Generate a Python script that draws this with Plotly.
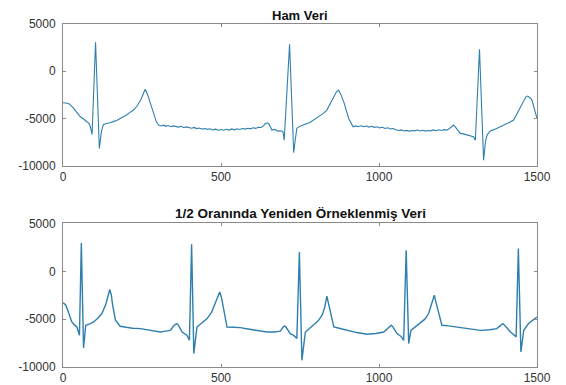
import plotly.graph_objects as go
from plotly.subplots import make_subplots

# Raw data (top)
raw_x = [0, 10, 20, 28, 34, 45, 55, 65, 75, 82, 86, 92, 103, 115, 122, 128, 140, 150, 160, 170, 181, 192, 202, 212, 223, 235, 247, 255, 260, 268, 278, 289, 296, 303,
         311, 318, 326, 333, 341, 349, 357, 366, 374, 381, 390, 398, 407, 415, 423, 432, 440, 449, 457, 466, 474, 483, 491, 500, 508, 517, 525, 534, 542, 551, 559, 568, 576, 585, 593, 602, 610, 618, 627, 635, 640, 646, 652, 661, 670, 680, 690, 696, 700,
         717, 730, 736, 740, 750, 760, 770, 780, 793, 803, 813, 824, 835, 845, 855, 865, 872, 880, 890, 904, 918,
         926, 934, 943, 951, 960, 968, 977, 985, 994, 1002, 1011, 1019, 1028, 1036, 1045, 1053, 1062, 1070, 1079, 1087, 1096, 1104, 1113, 1121, 1130, 1138, 1147, 1155, 1164, 1172, 1181, 1189, 1198, 1206, 1215, 1223, 1230, 1236, 1242, 1250, 1257, 1267, 1277, 1287, 1299, 1305,
         1318, 1331, 1337, 1342, 1352, 1362, 1373, 1383, 1393, 1403, 1414, 1426, 1436, 1447, 1458, 1465, 1470, 1478, 1484, 1492, 1500]
raw_y = [-3330, -3350, -3450, -3700, -3930, -4400, -4810, -5050, -5350, -5500, -5790, -6680, 3060, -8160, -6300, -5620, -5500, -5450, -5300, -5200, -4990, -4800, -4600, -4350, -4100, -3650, -2950, -2300, -1910, -2500, -3600, -4810, -5400, -5690,
         -5780, -5700, -5820, -5740, -5860, -5780, -5830, -5900, -5820, -5950, -5880, -5960, -6020, -5940, -6060, -6000, -6120, -6050, -6140, -6080, -6200, -6120, -6230, -6160, -6240, -6140, -6220, -6100, -6190, -6080, -6150, -6050, -6120, -6020, -6090, -5980, -6040, -5920, -5940, -5750, -5550, -5450, -5600, -6220, -6150, -6330, -6300, -6400, -7280,
         2850, -8620, -7000, -6040, -5800, -5650, -5550, -5450, -5160, -5000, -4750, -4450, -4100, -3500, -2800, -2200, -1990, -2500, -3400, -4990, -5870,
         -5780, -5860, -5760, -5870, -5790, -5900, -5820, -5930, -5870, -5990, -5920, -6050, -5980, -6100, -6060, -6180, -6260, -6200, -6320, -6250, -6330, -6260, -6300, -6220, -6310, -6240, -6330, -6270, -6300, -6200, -6280, -6180, -6260, -6170, -6220, -6050, -5850, -5690, -5900, -6300, -6570, -6620, -6720, -6800, -6930, -7280,
         2320, -9400, -7400, -6750, -6300, -6200, -6040, -5900, -5750, -5600, -5400, -5160, -4500, -3750, -3050, -2700, -2620, -2800, -3050, -4000, -4990]

# Resampled data (bottom)
res_x = [0, 8, 13, 20, 28, 36, 44, 52, 58, 65, 72, 85, 97, 110, 123, 135, 142, 148, 153, 157, 166, 181, 200, 220, 245, 270, 290, 308, 325, 339, 345, 350, 359, 365, 368, 377, 392, 400,
         407, 414, 424, 440, 456, 470, 484, 491, 496, 502, 508, 519, 540, 561, 590, 620, 646, 668, 688, 695, 701, 706, 710, 719, 730, 740,
         748, 756, 767, 780, 793, 807, 820, 828, 835, 840, 846, 857, 880, 899, 930, 962, 990, 1015, 1028, 1034, 1039, 1044, 1048, 1057, 1070, 1078,
         1086, 1094, 1101, 1115, 1131, 1145, 1157, 1167, 1172, 1175, 1180, 1187, 1199, 1220, 1247, 1280, 1321, 1350, 1373, 1385, 1392, 1398, 1404, 1416, 1426, 1434,
         1441, 1449, 1458, 1473, 1487, 1500]
res_y = [-3300, -3500, -3890, -4500, -5290, -5600, -5820, -6680, 2970, -8010, -5640, -5500, -5290, -4900, -4410, -3500, -2600, -1900, -2500, -3500, -5110, -5740, -5850, -5950, -5990, -6150, -6250, -6340, -6250, -6170, -5950, -5700, -5460, -5600, -5800, -6340, -6680, -7210,
         2830, -8600, -5820, -5400, -4940, -4300, -3200, -2600, -2150, -2800, -3800, -5820, -5850, -5880, -6050, -6200, -6340, -6340, -6250, -5900, -5700, -5850, -6100, -6510, -6700, -7030,
         2030, -9300, -6340, -5950, -5640, -5200, -4590, -3800, -2600, -3300, -4200, -5820, -6000, -6160, -6400, -6580, -6500, -6340, -6000, -5750, -5640, -5800, -6050, -6510, -6800, -7210,
         2210, -7550, -6170, -5800, -5460, -5000, -4410, -3400, -2800, -2500, -3200, -4200, -5640, -5700, -5820, -6000, -6170, -6100, -5990, -5650, -5460, -5650, -5900, -6340, -6600, -6860,
         2380, -8430, -6170, -5460, -5100, -4770]

titles = ["Ham Veri", "1/2 Oranında Yeniden Örneklenmiş Veri"]
x_ticks = [0, 500, 1000, 1500]
x_tick_text = ["0", "500", "1000", "1500"]
y_ticks = [-10000, -5000, 0, 5000]
y_tick_text = ["-10000", "-5000", "0", "5000"]

fig = make_subplots(rows=2, cols=1, vertical_spacing=0.168)
fig.add_trace(go.Scatter(x=raw_x, y=raw_y, mode="lines",
                         line=dict(color="#2f7fae", width=1.1), showlegend=False), row=1, col=1)
fig.add_trace(go.Scatter(x=res_x, y=res_y, mode="lines",
                         line=dict(color="#2f7fae", width=1.4), showlegend=False), row=2, col=1)

axis_common = dict(showline=True, mirror="ticks", linecolor="#8a8a8a", linewidth=1,
                   ticks="inside", ticklen=3, tickcolor="#8a8a8a", showgrid=False, zeroline=False,
                   automargin=False,
                   tickfont=dict(family="Liberation Sans, Arial", size=12, color="#333333"))
for r in (1, 2):
    fig.update_xaxes(range=[0, 1500], tickvals=x_ticks, ticktext=x_tick_text, ticklabelstandoff=0,
                     row=r, col=1, **axis_common)
    fig.update_yaxes(range=[-10000, 5000], tickvals=y_ticks, ticktext=y_tick_text, ticklabelstandoff=4,
                     row=r, col=1, **axis_common)

# the page places the figure 8px in from the top-left corner of the window
fig.update_layout(
    width=558, height=377,
    margin=dict(l=55, r=29, t=16, b=18),
    plot_bgcolor="white", paper_bgcolor="white",
    yaxis=dict(domain=[0.5865, 1.0]),
    yaxis2=dict(domain=[0.0, 0.4184]),
    annotations=[
        dict(text="<b>" + titles[0] + "</b>", x=0.5, xref="paper", y=1.0, yref="paper",
             yanchor="bottom", yshift=-1, showarrow=False,
             font=dict(family="Liberation Sans, Arial", size=13, color="#111111")),
        dict(text="<b>" + titles[1] + "</b>", x=0.5, xref="paper", y=0.4184, yref="paper",
             yanchor="bottom", yshift=0, showarrow=False,
             font=dict(family="Liberation Sans, Arial", size=13.5, color="#111111")),
    ],
)

fig.write_html("out.html")
